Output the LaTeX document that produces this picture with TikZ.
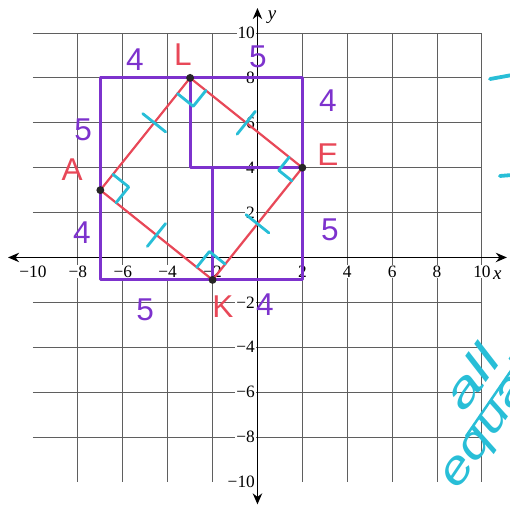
\documentclass[tikz,border=0pt]{standalone}
\usepackage{fontspec}
\setmainfont{Liberation Serif}
\newfontfamily\hand{Liberation Sans}
\usetikzlibrary{arrows.meta}
\definecolor{gridc}{RGB}{95,95,95}
\definecolor{purp}{RGB}{125,50,205}
\definecolor{redc}{RGB}{232,72,88}
\definecolor{cyanc}{RGB}{40,190,215}
\begin{document}
\begin{tikzpicture}[x=0.5cm,y=0.5cm,
 gridline/.style={gridc, line width=0.55pt},
 axisline/.style={black, line width=0.8pt, {Stealth[length=7pt,width=6pt]}-{Stealth[length=7pt,width=6pt]}},
 ticklab/.style={fill=white, inner sep=0.6pt, font=\fontsize{11}{11}\selectfont},
 purpline/.style={purp, line width=2pt, line join=round, line cap=round},
 redline/.style={redc, line width=1.4pt, line join=round},
 cyanmark/.style={cyanc, line width=1.8pt, line cap=round, line join=round},
 plab/.style={purp, font=\hand\fontsize{20}{20}\selectfont},
 rlab/.style={redc, font=\hand\fontsize{20}{20}\selectfont},
 vdot/.style={circle, fill=black!85, inner sep=0pt, minimum size=5pt},
 note/.style={cyanc, font=\hand\itshape\fontsize{28}{28}\selectfont, anchor=base west, inner sep=0pt}]
\useasboundingbox (-11.47,-11.16) rectangle (11.25,11.47);
% grid
\draw[gridline] (-10,-10) grid (10,10);
% axes
\coordinate (xl) at (-11.11,0);
\coordinate (xr) at (11.11,0);
\coordinate (yt) at (0,11.11);
\coordinate (yb) at (0,-11.0);
\draw[axisline] (xl) -- (xr);
\draw[axisline] (yb) -- (yt);
\node[font=\itshape\fontsize{12}{12}\selectfont] (xlab) at (10.69,-0.78) {x};
\node[font=\itshape\fontsize{12}{12}\selectfont] (ylab) at (0.65,10.71) {y};
% tick labels
\foreach \p/\t in {-10/−10,-8/−8,-6/−6,-4/−4,-2/−2,2/2,4/4,6/6,8/8,10/10}{
  \node[ticklab] (tx\p) at (\p,-0.62) {\t};
  \node[ticklab, anchor=east] (ty\p) at (-0.06,\p) {\t};
}
% points
\coordinate (A) at (-7,3);
\coordinate (L) at (-3,8);
\coordinate (E) at (2,4);
\coordinate (K) at (-2,-1);
\coordinate (P1) at (-7,8);
\coordinate (P2) at (2,8);
\coordinate (P3) at (2,-1);
\coordinate (P4) at (-7,-1);
\coordinate (Q1) at (-3,4);
\coordinate (Q2) at (-2,4);
% purple
\draw[purpline] (P1) -- (P2) -- (P3) -- (P4) -- cycle;
\draw[purpline] (L) -- (Q1) -- (E);
\draw[purpline] (Q2) -- (K);
% red square
\draw[redline] (A) -- (L) -- (E) -- (K) -- cycle;
% right-angle marks
\draw[cyanmark] (-3.562,7.297) -- (-2.859,6.735) -- (-2.297,7.438);
\draw[cyanmark] (-6.438,3.703) -- (-5.735,3.141) -- (-6.297,2.438);
\draw[cyanmark] (1.414,4.469) -- (0.946,3.883) -- (1.531,3.414);
\draw[cyanmark] (-1.438,-0.297) -- (-2.141,0.265) -- (-2.703,-0.438);
% congruence ticks
\draw[cyanmark] (-5.108,6.406) -- (-4.092,5.594);
\draw[cyanmark] (-0.906,5.492) -- (-0.094,6.508);
\draw[cyanmark] (-0.508,1.906) -- (0.508,1.094);
\draw[cyanmark] (-4.906,0.492) -- (-4.094,1.508);
% vertices
\node[vdot] (dA) at (A) {};
\node[vdot] (dL) at (L) {};
\node[vdot] (dE) at (E) {};
\node[vdot] (dK) at (K) {};
% vertex labels
\node[rlab] (lL) at (-3.32,9.02) {L};
\node[rlab] (lA) at (-8.26,3.9) {A};
\node[rlab] (lE) at (3.14,4.57) {E};
\node[rlab] (lK) at (-1.54,-2.2) {K};
% side lengths
\node[plab] (s1) at (-5.46,8.8) {4};
\node[plab] (s2) at (0.02,8.93) {5};
\node[plab] (s3) at (3.14,7.0) {4};
\node[plab] (s4) at (3.23,1.22) {5};
\node[plab] (s5) at (-7.77,5.68) {5};
\node[plab] (s6) at (-7.82,1.09) {4};
\node[plab] (s7) at (-5.0,-2.34) {5};
\node[plab] (s8) at (0.33,-2.12) {4};
% notes at right edge
\coordinate (d1a) at (10.36,7.95);
\coordinate (d1b) at (11.3,8.12);
\coordinate (d2a) at (10.8,3.63);
\coordinate (d2b) at (11.3,3.67);
\draw[cyanmark, line width=2.4pt] (d1a) -- (d1b);
\draw[cyanmark, line width=2.4pt] (d2a) -- (d2b);
\node[note, rotate=54, xscale=1.5] (n1) at (9.2,-6.95) {all};
\coordinate (u1) at (9.3,-7.95);
\coordinate (u2) at (11.6,-4.6);
\draw[cyanmark, line width=1.6pt] (u1) -- (u2);
\node[note, rotate=56, xscale=1.3] (n2) at (8.95,-10.4) {equal};
\end{tikzpicture}
\end{document}
